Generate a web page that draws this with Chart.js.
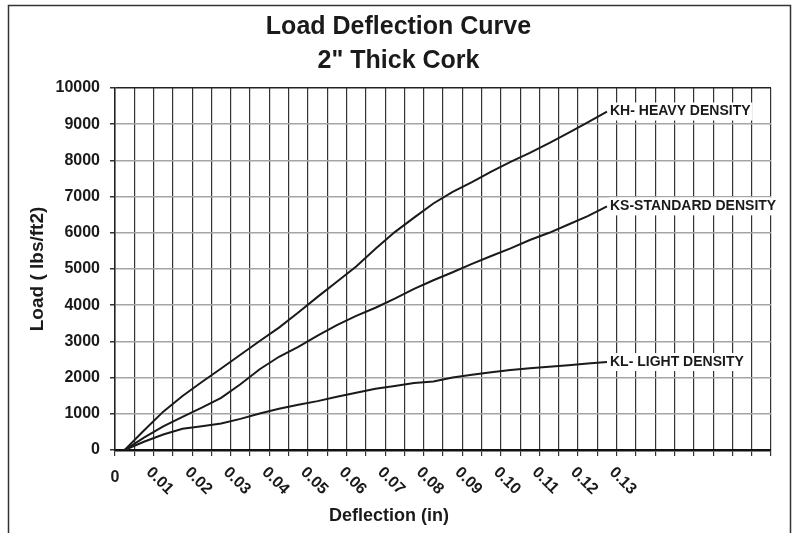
<!DOCTYPE html>
<html>
<head>
<meta charset="utf-8">
<script src="https://cdn.jsdelivr.net/npm/chart.js@4"></script>
<style>
  html, body { margin: 0; padding: 0; background: #fff; }
</style>
</head>
<body>
<canvas id="chart" width="797" height="533"></canvas>
<script>
// deflection (in) at each reading
const deflection = [0.0025, 0.0075, 0.0125, 0.0175, 0.0225, 0.0275, 0.0325, 0.0375, 0.0425,
  0.0475, 0.0525, 0.0575, 0.0625, 0.0675, 0.0725, 0.0775, 0.0825, 0.0875, 0.0925, 0.0975,
  0.1025, 0.1075, 0.1125, 0.1175, 0.1225, 0.1275];

// load (lbs/ft2)
const heavy = [0, 540, 1060, 1490, 1880, 2250, 2630, 3010, 3380, 3800, 4230, 4650, 5070,
  5560, 6020, 6420, 6810, 7130, 7400, 7690, 7960, 8210, 8480, 8760, 9050, 9350];
const standard = [0, 340, 650, 915, 1170, 1440, 1815, 2230, 2575, 2850, 3160, 3450, 3705,
  3930, 4180, 4450, 4690, 4910, 5140, 5360, 5570, 5800, 6000, 6230, 6460, 6730];
const light = [0, 229, 427, 585, 655, 735, 860, 1010, 1140, 1250, 1350, 1470, 1580,
  1690, 1770, 1850, 1890, 2000, 2080, 2150, 2210, 2260, 2300, 2340, 2390, 2430];

const seriesNames = ["KH- HEAVY DENSITY", "KS-STANDARD DENSITY", "KL- LIGHT DENSITY"];
const xTickLabels = ["0", "0.01", "0.02", "0.03", "0.04", "0.05", "0.06", "0.07",
  "0.08", "0.09", "0.10", "0.11", "0.12", "0.13"];
const titleLines = ["Load Deflection Curve", "2\" Thick Cork"];

const FONT = "'Liberation Sans', Arial, sans-serif";
const INK = "#1a1a1a";
Chart.defaults.font.family = FONT;
Chart.defaults.color = INK;

function toPoints(values) {
  return values.map((v, i) => ({ x: deflection[i], y: v }));
}

const annotate = {
  id: "annotate",
  beforeDraw(chart) {
    const { ctx } = chart;
    ctx.save();
    ctx.fillStyle = "#fff";
    ctx.fillRect(0, 0, chart.width, chart.height);
    ctx.strokeStyle = "#333";
    ctx.lineWidth = 1.5;
    ctx.strokeRect(8.5, 5.5, 782, 560);
    ctx.restore();
  },
  afterDraw(chart) {
    const { ctx } = chart;
    const { x, y } = chart.scales;
    ctx.save();
    ctx.fillStyle = INK;

    // x tick labels, slanted down to the right
    ctx.font = "bold 16px " + FONT;
    for (const label of xTickLabels) {
      const px = x.getPixelForValue(parseFloat(label));
      if (label === "0") {
        ctx.textAlign = "center";
        ctx.textBaseline = "middle";
        ctx.fillText(label, px, 478);
        continue;
      }
      ctx.save();
      ctx.translate(px - 8, 473);
      ctx.rotate(Math.PI / 4);
      ctx.textAlign = "left";
      ctx.textBaseline = "alphabetic";
      ctx.fillText(label, 0, 0);
      ctx.restore();
    }

    ctx.font = "bold 18px " + FONT;
    ctx.textAlign = "center";
    ctx.textBaseline = "middle";
    ctx.fillText("Deflection (in)", 389, 516);

    // curve names at the line ends
    ctx.font = "bold 14px " + FONT;
    ctx.textAlign = "left";
    for (const ds of chart.data.datasets) {
      const last = ds.data[ds.data.length - 1];
      const px = x.getPixelForValue(last.x) + 3;
      const py = y.getPixelForValue(last.y);
      const w = ctx.measureText(ds.label).width;
      ctx.fillStyle = "#fff";
      ctx.fillRect(px - 1, py - 9, w + 3, 18);
      ctx.fillStyle = INK;
      ctx.fillText(ds.label, px, py);
    }
    ctx.restore();
  },
};

new Chart(document.getElementById("chart"), {
  type: "line",
  data: {
    datasets: [
      { label: seriesNames[0], data: toPoints(heavy) },
      { label: seriesNames[1], data: toPoints(standard) },
      { label: seriesNames[2], data: toPoints(light) },
    ],
  },
  options: {
    responsive: false,
    animation: false,
    layout: { padding: { top: 0, right: 26, bottom: 0, left: 26 } },
    elements: {
      point: { radius: 0 },
      line: { borderColor: "#1a1a1a", borderWidth: 2, tension: 0 },
    },
    plugins: {
      legend: { display: false },
      tooltip: { enabled: false },
      title: {
        display: true,
        text: titleLines,
        color: INK,
        font: { size: 25, weight: "bold", lineHeight: 1.36 },
        padding: { top: 10, bottom: 10 },
      },
    },
    scales: {
      x: {
        type: "linear",
        min: 0,
        max: 0.17,
        afterFit: (s) => { s.height = 83; },
        ticks: { display: false, stepSize: 0.005 },
        grid: { color: "#333", lineWidth: 1.2, tickLength: 6, tickColor: "#333" },
        border: { color: "#111", width: 2.5 },
      },
      y: {
        min: 0,
        max: 10000,
        afterFit: (s) => { s.width = 89; },
        ticks: {
          stepSize: 1000,
          padding: 10,
          color: INK,
          font: { size: 16, weight: "bold" },
          callback: (v) => String(v),
        },
        grid: {
          color: (c) => (c.tick && c.tick.value === 10000 ? "#222" : "#a1a6ab"),
          lineWidth: 1.5,
          tickLength: 5,
          tickColor: "#333",
        },
        border: { color: "#222", width: 1.5 },
        title: {
          display: true,
          text: "Load ( lbs/ft2)",
          color: INK,
          font: { size: 19, weight: "bold" },
          padding: { top: 0, bottom: 0 },
        },
      },
    },
  },
  plugins: [annotate],
});
</script>
</body>
</html>
